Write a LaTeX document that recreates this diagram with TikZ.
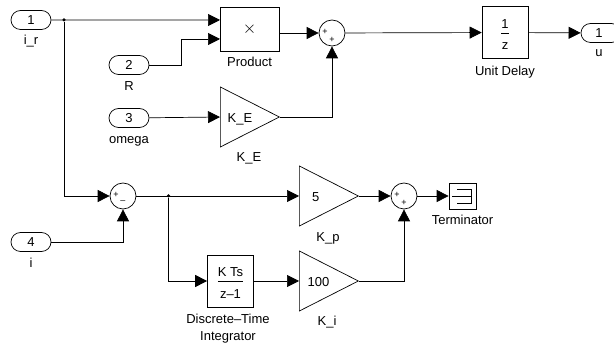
\documentclass[tikz,border=0pt]{standalone}
\usepackage{amsmath}
\usepackage{fontspec}
\setmainfont{Liberation Sans}
\usetikzlibrary{shapes.geometric,shapes.misc,arrows.meta,positioning}
\newcommand{\blockfrac}[2]{$\dfrac{\text{\rule[-2.5pt]{0pt}{15.5pt}#1}}{\text{\rule{0pt}{15pt}#2}}$}

\begin{document}
\begin{tikzpicture}[
  x=1pt, y=-1pt,
  line width=0.7pt,
  every node/.style={font=\fontsize{13}{17.3}\selectfont},
  port/.style={draw, rounded rectangle, minimum width=40pt, minimum height=19pt, inner sep=0pt},
  block/.style={draw, minimum width=46pt, minimum height=52pt, inner sep=0pt, align=center},
  gain/.style={draw, isosceles triangle, isosceles triangle apex angle=54,
               isosceles triangle stretches, minimum width=60pt, minimum height=59pt, inner sep=0pt,
               text height=11pt, text depth=0pt},
  sumb/.style={draw, circle, minimum size=26pt, inner sep=0pt},
  sgn/.style={inner sep=0pt, font=\fontsize{9}{9}\selectfont},
  lbl/.style={inner sep=0pt, text height=9.5pt, text depth=3pt, align=center},
  junct/.style={circle, fill, minimum size=3.5pt, inner sep=0pt},
  arr/.style={-{Triangle[length=12pt,width=12pt]}}
]
\useasboundingbox (0,0) rectangle (614,347);

% inports and outport
\node[port] (in1) at (31,20)   {1};
\node[port] (in2) at (129,65)  {2};
\node[port] (in3) at (129,118) {3};
\node[port] (in4) at (31,242)  {4};
\node[port] (out) at (601,33)  {\hspace*{-4pt}1};
\node[lbl, below=5pt of in1] (lin1) {i\_r};
\node[lbl, below=6pt of in2] (lin2) {R};
\node[lbl, below=5.5pt of in3] (lin3) {omega};
\node[lbl, below=5.5pt of in4] (lin4) {i};
\node[lbl] (lout) at (599,53) {u};

% upper row
\node[block, minimum width=59pt, minimum height=43.5pt, font=\fontsize{17}{17}\selectfont] (prod) at (249.5,29.3) {$\times$};
\node[lbl, below=5.5pt of prod] (lprod) {Product};
\node[gain] (ke) at (220,117) [anchor=lower side] {K\_E};
\node[lbl] (lke) at (249,158) {K\_E};
\node[sumb] (s1) at (332,33) {};
\node[sgn] (s1a) at (325,32) {+};
\node[sgn] (s1b) at (332,39.5) {+};
\node[block] (ud) at (505,32.5) {\blockfrac{1}{z}};
\node[lbl, below=6.5pt of ud] (lud) {Unit Delay};

% lower row
\node[sumb] (s2) at (123,196) {};
\node[sgn] (s2a) at (116,195) {+};
\node[sgn] (s2b) at (123,202.5) {--};
\node[gain] (kp) at (299,196) [anchor=lower side] {5};
\node[lbl] (lkp) at (328,238) {K\_p};
\node[sumb] (s3) at (404,196) {};
\node[sgn] (s3a) at (397,195) {+};
\node[sgn] (s3b) at (404,202.5) {+};
\node[block, minimum width=27pt, minimum height=26pt] (term) at (462.5,196) {};
\node[lbl, below=5.5pt of term] (lterm) {Terminator};
\node[block] (int) at (230.5,281) {\blockfrac{K Ts}{z--1}};
\node[lbl] (lint) at (228,337.5) {Discrete--Time\\Integrator};
\node[gain] (ki) at (299,281) [anchor=lower side] {100};
\node[lbl] (lki) at (327,322) {K\_i};

% terminator symbol
\draw (457,189) -- (471,189) -- (471,203) -- (457,203) (452,196) -- (471,196);

% branch points
\node[junct] (j1) at (64,20) {};
\node[junct] (j2) at (168.5,196) {};
\coordinate (pa) at (220,20);
\coordinate (pb) at (220,39);
\coordinate (po) at (279,33);

\draw[arr] (in1) -- (pa);
\draw[arr] (in2.east) -- ++(32,0) |- (pb);
\draw[arr] (in3) -- (ke.lower side);
\draw[arr] (po) -- (s1);
\draw[arr] (ke.apex) -| (s1);
\draw[arr] (s1) -- (ud);
\draw[arr] (ud) -- (out);
\draw[arr] (j1) |- (s2);
\draw[arr] (in4) -| (s2);
\draw[arr] (s2) -- (kp.lower side);
\draw[arr] (j2) |- (int);
\draw[arr] (int) -- (ki.lower side);
\draw[arr] (kp.apex) -- (s3);
\draw[arr] (ki.apex) -| (s3);
\draw[arr] (s3) -- (term);
\end{tikzpicture}
\end{document}
